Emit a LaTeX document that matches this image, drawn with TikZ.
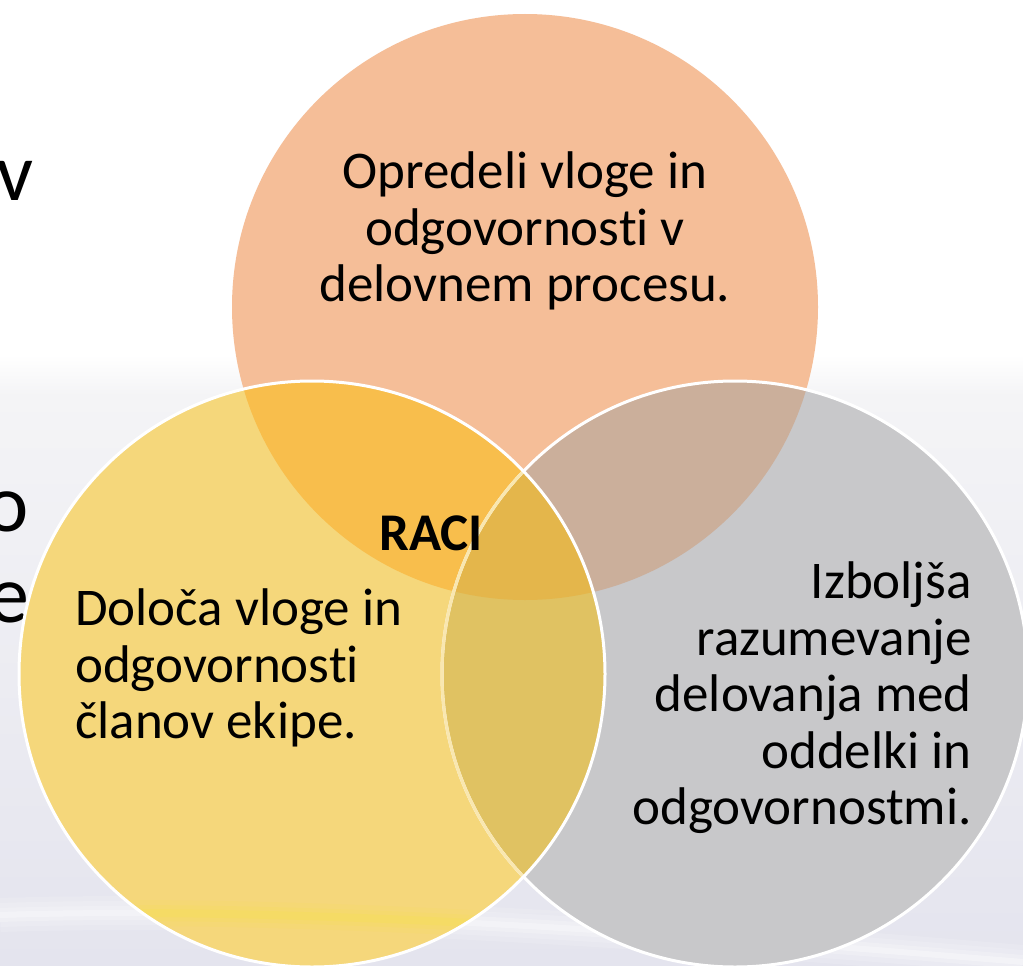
\documentclass[tikz,border=0pt]{standalone}
\usepackage{fontspec}
\setmainfont[Ligatures=NoCommon]{Carlito}
\definecolor{salmon}{RGB}{245,190,152}
\definecolor{sun}{RGB}{245,215,123}
\definecolor{ash}{RGB}{200,200,202}
\definecolor{salmonsun}{RGB}{248,190,76}
\definecolor{salmonash}{RGB}{203,175,155}
\definecolor{sunash}{RGB}{224,194,98}
\definecolor{core}{RGB}{228,182,75}
\definecolor{bgtop}{RGB}{244,244,246}
\definecolor{bgbot}{RGB}{228,228,238}
\begin{document}
\begin{tikzpicture}[x=1pt,y=-1pt,
    rim/.style={white,line width=3pt},
    lbl/.style={inner sep=0pt,font=\fontsize{53}{56.5}\selectfont}]
    \useasboundingbox (0,0) rectangle (1023,966);
    % slide background
    \fill[white] (0,0) rectangle (1023,966);
    \shade[top color=white,bottom color=bgtop] (0,355) rectangle (1023,395);
    \shade[top color=bgtop,bottom color=bgbot] (0,394) rectangle (1023,966);
    \foreach \w/\o in {34/0.12,24/0.15,14/0.2,6/0.3}
        { \draw[white,line width=\w pt,opacity=\o] (0,915) .. controls (300,905) and (700,935) .. (1023,962); }
    \foreach \t/\y/\x in {v/200/34,o/531/29,e/622/29}
        { \node[anchor=base east,inner sep=0pt,font=\fontsize{82}{90}\selectfont] (side\t) at (\x,\y) {\t}; }
    % circles
    \coordinate (top) at (525,307);
    \coordinate (left) at (312,674);
    \coordinate (right) at (735,674);
    \fill[salmon] (top) circle[radius=293pt];
    \fill[ash] (right) circle[radius=293pt];
    \fill[sun] (left) circle[radius=293pt];
    \begin{scope}
        \clip (top) circle[radius=293pt];
        \fill[salmonsun] (left) circle[radius=293pt];
        \fill[salmonash] (right) circle[radius=293pt];
    \end{scope}
    \begin{scope}
        \clip (left) circle[radius=293pt];
        \fill[sunash] (right) circle[radius=293pt];
        \clip (right) circle[radius=293pt];
        \fill[core] (top) circle[radius=293pt];
    \end{scope}
    \begin{scope}
        \clip (left) circle[radius=293pt];
        \foreach \w/\o in {26/0.15,16/0.2,8/0.3}
            { \draw[yellow!35!sun,line width=\w pt,opacity=\o] (0,915) .. controls (300,905) and (700,935) .. (1023,962); }
    \end{scope}
    \draw[rim] (right) circle[radius=293pt];
    \begin{scope}
        \clip (left) circle[radius=293pt];
        \draw[rim,white!40!sun] (right) circle[radius=293pt];
    \end{scope}
    \draw[rim] (left) circle[radius=293pt];
    % texts
    \node[lbl,align=center] (topText) at (525,231) {Opredeli vloge in\\odgovornosti v\\delovnem procesu.};
    \node[lbl,align=left,anchor=west] (leftText) at (75,668) {Določa vloge in\\odgovornosti\\članov ekipe.};
    \node[lbl,align=right,anchor=east] (rightText) at (972,698) {Izboljša\\razumevanje\\delovanja med\\oddelki in\\odgovornostmi.};
    \node[lbl,anchor=base,font=\fontsize{53}{56.5}\selectfont\bfseries] (raci) at (431,550) {RACI};
\end{tikzpicture}
\end{document}
